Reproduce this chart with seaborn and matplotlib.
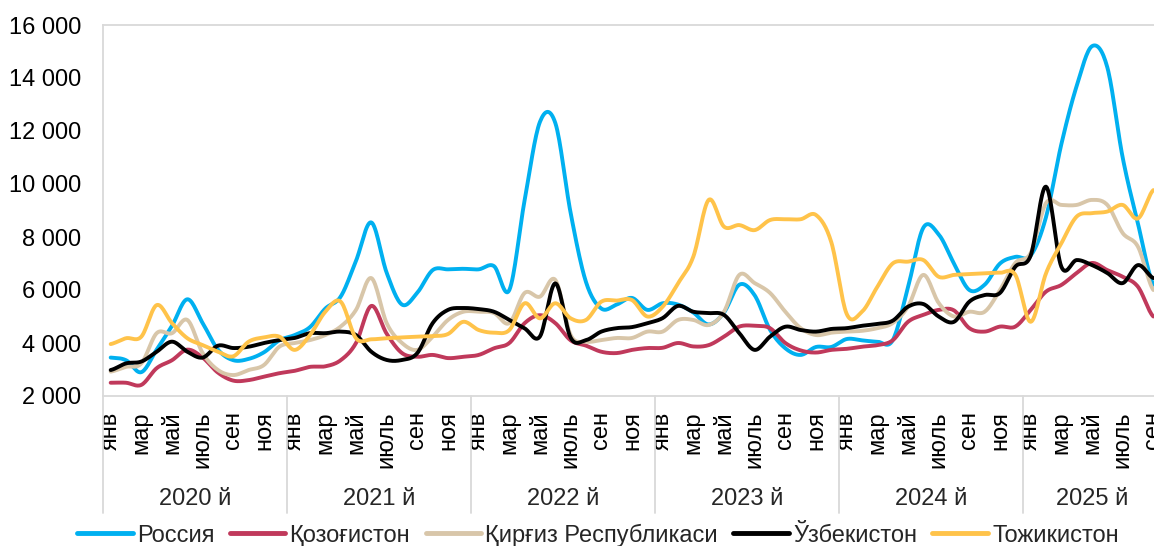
import numpy as np
import pandas as pd
import seaborn as sns
import matplotlib.pyplot as plt
import matplotlib.transforms as mtransforms
from matplotlib.lines import Line2D

# %% datos mensuales ene-2020 .. sep-2025

years = [2020, 2021, 2022, 2023, 2024, 2025]
month_names = ['янв', 'фев', 'мар', 'апр', 'май', 'июнь',
               'июль', 'авг', 'сен', 'окт', 'ноя', 'дек']
shown_months = ['янв', 'мар', 'май', 'июль', 'сен', 'ноя']

russia = [3450, 3350, 2900, 3750, 4650, 5650, 4750, 3750, 3350, 3400, 3650, 4100,
          4300, 4600, 5300, 5750, 7100, 8550, 6650, 5450, 5900, 6750, 6780, 6800,
          6780, 6900, 6000, 9400, 12350, 12300, 8900, 6300, 5300, 5450, 5700, 5250,
          5500, 5450, 5150, 4700, 5150, 6200, 5800, 4500, 3800, 3550, 3850, 3850,
          4150, 4100, 4050, 4100, 6100, 8350, 8100, 7000, 6000, 6200, 7000, 7250,
          7300, 8750, 11500, 13700, 15200, 14400, 11000, 8500, 6200]

kazakhstan = [2500, 2500, 2420, 3050, 3350, 3750, 3450, 2880, 2580, 2600, 2730, 2860,
              2950, 3100, 3120, 3350, 4000, 5400, 4350, 3620, 3480, 3550, 3430, 3480,
              3550, 3800, 4000, 4750, 5050, 4750, 4100, 3900, 3670, 3620, 3740, 3810,
              3820, 4000, 3870, 3920, 4240, 4620, 4650, 4560, 4000, 3720, 3640, 3740,
              3780, 3860, 3920, 4100, 4800, 5060, 5250, 5230, 4560, 4430, 4620, 4620,
              5250, 5940, 6190, 6640, 7020, 6750, 6500, 6120, 5000]

kyrgyz = [2920, 3100, 3230, 4370, 4370, 4870, 3620, 2980, 2790, 2980, 3170, 3860,
          4000, 4110, 4300, 4620, 5250, 6450, 4750, 4000, 3740, 4240, 4870, 5180,
          5180, 5130, 4750, 5890, 5750, 6380, 4300, 4050, 4110, 4190, 4190, 4430,
          4430, 4870, 4870, 4680, 5180, 6570, 6260, 5890, 5180, 4560, 4300, 4390,
          4430, 4460, 4560, 4750, 5370, 6570, 5510, 5000, 5180, 5180, 6000, 7020,
          7400, 9280, 9210, 9210, 9400, 9210, 8150, 7630, 6000]

uzbekistan = [2980, 3230, 3300, 3670, 4050, 3670, 3450, 3900, 3810, 3860, 4000, 4110,
              4190, 4370, 4370, 4430, 4300, 3670, 3360, 3360, 3620, 4750, 5250, 5320,
              5280, 5180, 4870, 4550, 4250, 6250, 4200, 4110, 4430, 4560, 4600, 4750,
              4940, 5400, 5180, 5130, 5060, 4370, 3740, 4240, 4615, 4490, 4430, 4530,
              4560, 4650, 4720, 4840, 5370, 5470, 5000, 4800, 5560, 5810, 5890, 6880,
              7300, 9900, 6880, 7130, 6940, 6640, 6260, 6940, 6450]

tajikistan = [3960, 4180, 4240, 5430, 4750, 4180, 3920, 3670, 3500, 4050, 4210, 4240,
              3740, 4300, 5180, 5560, 4180, 4140, 4180, 4210, 4240, 4260, 4340, 4800,
              4490, 4390, 4490, 5500, 4930, 5500, 4930, 4870, 5560, 5600, 5620, 5000,
              5370, 6250, 7260, 9400, 8390, 8450, 8260, 8640, 8670, 8670, 8830, 7800,
              5100, 5180, 6120, 7000, 7070, 7130, 6500, 6570, 6600, 6630, 6650, 6570,
              4800, 6630, 7760, 8770, 8900, 8960, 9210, 8700, 9770]

series_names = ['Россия', 'Қозоғистон', 'Қирғиз Республикаси', 'Ўзбекистон', 'Тожикистон']
series_values = [russia, kazakhstan, kyrgyz, uzbekistan, tajikistan]
colores = ['#00B0F0', '#C0395B', '#D8C6A9', '#000000', '#FFC34A']

n_months = len(russia)


# %% suavizado tipo excel (catmull-rom) solo para dibujar

def suavizar(vals, n=16):
    v = np.asarray(vals, dtype=float)
    p = np.r_[v[0], v, v[-1]]
    xs, ys = [], []
    t = np.linspace(0, 1, n, endpoint=False)
    for i in range(len(v) - 1):
        p0, p1, p2, p3 = p[i], p[i + 1], p[i + 2], p[i + 3]
        ys.append(0.5 * (2 * p1 + (-p0 + p2) * t + (2 * p0 - 5 * p1 + 4 * p2 - p3) * t ** 2
                         + (-p0 + 3 * p1 - 3 * p2 + p3) * t ** 3))
        xs.append(i + t)
    xs.append([len(v) - 1])
    ys.append([v[-1]])
    return np.concatenate(xs), np.concatenate(ys)


filas = []
for nombre, vals in zip(series_names, series_values):
    xs, ys = suavizar(vals)
    filas.append(pd.DataFrame({'x': xs, 'valor': ys, 'pais': nombre}))
df = pd.concat(filas, ignore_index=True)

# %% grafico

sns.set_theme(style='white')
plt.rcParams['font.family'] = ['Liberation Sans', 'DejaVu Sans']

fig = plt.figure(figsize=(11.54, 5.46), dpi=100)
ax = fig.add_axes([103 / 1154, 150 / 546, (1161 - 103) / 1154, 371 / 546])

sns.lineplot(data=df, x='x', y='valor', hue='pais', hue_order=series_names,
             palette=colores, linewidth=2.8, sort=False, estimator=None,
             legend=False, ax=ax)

ax.set_xlim(-0.5, n_months - 0.5)
ax.set_ylim(2000, 16000)
ax.set_xlabel('')
ax.set_ylabel('')

yticks = list(range(2000, 16001, 2000))
ax.set_yticks(yticks)
ax.set_yticklabels([f'{v:,}'.replace(',', ' ') for v in yticks])

pos, etiquetas = [], []
for i in range(n_months):
    m = month_names[i % 12]
    if m in shown_months:
        pos.append(i)
        etiquetas.append(m)
ax.set_xticks(pos)
ax.set_xticklabels(etiquetas, rotation=90)

ax.tick_params(axis='y', length=0, pad=15.5, labelsize=17, colors='black')
ax.tick_params(axis='x', length=0, pad=11, labelsize=17, colors='black')

for s in ax.spines.values():
    s.set_visible(True)
    s.set_color('#D9D9D9')
    s.set_linewidth(1.3)

# separadores y etiquetas de anos
trans = mtransforms.blended_transform_factory(ax.transData, ax.transAxes)
for k, yr in enumerate(years):
    ini = 12 * k - 0.5
    fin = min(12 * k + 11.5, n_months - 0.5)
    ax.plot([ini, ini], [0, -(513 - 396) / 371], transform=trans, color='#D9D9D9',
            lw=1.3, clip_on=False)
    ax.text((ini + fin) / 2, -(499 - 396) / 371, f'{yr} й', transform=trans,
            ha='center', va='center', fontsize=17)

handles = [Line2D([], [], color=c, lw=3.5) for c in colores]
fig.legend(handles, series_names, loc='center', bbox_to_anchor=(598 / 1154, 11 / 546),
           ncol=5, frameon=False, fontsize=17, handlelength=2.35, handletextpad=0.18,
           columnspacing=0.65, borderaxespad=0)

fig.savefig('out.png', dpi=100)
